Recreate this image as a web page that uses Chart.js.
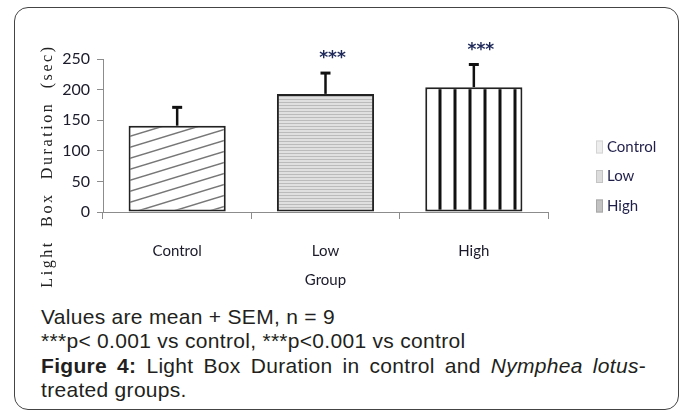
<!DOCTYPE html>
<html lang="en">
<head>
  <meta charset="UTF-8">
  <title>Light Box Duration</title>
  <script src="https://cdn.jsdelivr.net/npm/chart.js@4.4.0/dist/chart.umd.min.js"></script>
  <style>
    body { margin: 0; background: #fff; }
    #frame {
      position: absolute; left: 14px; top: 7px; width: 665px; height: 403px;
      box-sizing: border-box; border: 1.5px solid #444; border-radius: 14px;
    }
    #myChart { position: absolute; left: 0; top: 0; }
    #caption {
      position: absolute; left: 41px; top: 305px; width: 605px;
      font-family: "Liberation Sans", Arial, sans-serif; font-size: 21px;
      letter-spacing: 0.3px; line-height: 24.3px; color: #231f20; text-align: justify;
    }
  </style>
</head>
<body>
  <div id="frame"></div>
  <canvas id="myChart" width="683" height="300"></canvas>
  <div id="caption">
    Values are mean + SEM, n = 9<br>
    ***p&lt; 0.001 vs control, ***p&lt;0.001 vs control<br>
    <b>Figure 4:</b> Light Box Duration in control and <i>Nymphea lotus</i>-treated groups.
  </div>
  <script>
    // data
    const groups = ['Control', 'Low', 'High'];
    const means = [141, 193, 204];
    const sem = [30, 34, 37];
    const stars = ['', '***', '***'];
    const yTicks = [0, 50, 100, 150, 200, 250];

    const narrow = 'Lato, "DejaVu Sans Condensed", sans-serif';

    // fill patterns for the three bars
    function makePattern(w, h, draw) {
      const c = document.createElement('canvas');
      c.width = w; c.height = h;
      const g = c.getContext('2d');
      draw(g, w, h);
      return c.getContext('2d').createPattern(c, 'repeat');
    }
    const diag = makePattern(36, 11, (g, w, h) => {
      g.fillStyle = '#fff'; g.fillRect(0, 0, w, h);
      g.strokeStyle = '#777'; g.lineWidth = 1.5;
      for (let k = -1; k <= 1; k++) {
        g.beginPath();
        g.moveTo(-1, h + k * h + h / w);
        g.lineTo(w + 1, k * h - h / w);
        g.stroke();
      }
    });
    const hstripe = makePattern(4, 3, (g, w, h) => {
      g.fillStyle = '#e0e0e0'; g.fillRect(0, 0, w, h);
      g.fillStyle = '#bbb'; g.fillRect(0, 0, w, 1);
    });
    const vstripe = makePattern(15, 4, (g, w, h) => {
      g.fillStyle = '#fff'; g.fillRect(0, 0, w, h);
      g.fillStyle = '#111'; g.fillRect(3.5, 0, 3, h);
    });

    // error bars + significance stars
    const errorBars = {
      id: 'errorBars',
      afterDatasetsDraw(chart) {
        const ctx = chart.ctx;
        const y = chart.scales.y;
        const meta = chart.getDatasetMeta(0);
        ctx.save();
        meta.data.forEach((bar, i) => {
          const top = y.getPixelForValue(means[i] + sem[i]);
          const base = y.getPixelForValue(means[i]);
          ctx.strokeStyle = '#111';
          ctx.lineWidth = 2.5;
          ctx.beginPath();
          ctx.moveTo(bar.x, base);
          ctx.lineTo(bar.x, top);
          ctx.stroke();
          ctx.lineWidth = 3;
          ctx.beginPath();
          ctx.moveTo(bar.x - 5, top);
          ctx.lineTo(bar.x + 5, top);
          ctx.stroke();
          if (stars[i]) {
            ctx.fillStyle = '#1f2a5a';
            ctx.font = 'bold 17px "DejaVu Sans", sans-serif';
            ctx.textAlign = 'center';
            ctx.textBaseline = 'middle';
            ctx.fillText(stars[i], bar.x + 7, top - 14);
          }
        });
        ctx.restore();
      }
    };

    // rotated serif y title and the small legend on the right
    const extras = {
      id: 'extras',
      afterDraw(chart) {
        const ctx = chart.ctx;
        ctx.save();
        ctx.translate(48, 166);
        ctx.rotate(-Math.PI / 2);
        ctx.font = '16px "Liberation Serif", "DejaVu Serif", serif';
        ctx.letterSpacing = '2.6px';
        ctx.fillStyle = '#222';
        ctx.textAlign = 'center';
        ctx.textBaseline = 'middle';
        ctx.fillText('Light  Box  Duration  (sec)', 0, 0);
        ctx.restore();

        const swatch = ['#ededed', '#dcdcdc', '#c2c2c2'];
        const edge = ['#d4d4d4', '#c4c4c4', '#a8a8a8'];
        ctx.save();
        ctx.font = '15px ' + narrow;
        ctx.textBaseline = 'middle';
        groups.forEach((g, i) => {
          const cy = 147 + i * 29.5;
          ctx.fillStyle = swatch[i];
          ctx.fillRect(596, cy - 6.5, 7, 13);
          ctx.strokeStyle = edge[i];
          ctx.lineWidth = 1;
          ctx.strokeRect(596.5, cy - 6, 6, 12);
          ctx.fillStyle = '#1f1f4a';
          ctx.fillText(g, 607, cy);
        });
        ctx.restore();
      }
    };

    new Chart(document.getElementById('myChart'), {
      type: 'bar',
      data: {
        labels: groups,
        datasets: [{
          data: means,
          backgroundColor: [diag, hstripe, vstripe],
          borderColor: '#222',
          borderWidth: 2,
          borderSkipped: false,
          categoryPercentage: 1,
          barPercentage: 0.655
        }]
      },
      options: {
        responsive: false,
        animation: false,
        layout: { padding: { left: 0, right: 135, top: 59, bottom: 0 } },
        plugins: { legend: { display: false }, tooltip: { enabled: false } },
        scales: {
          x: {
            afterFit: s => { s.height = 88; },
            border: { color: '#8c8c8c', width: 1 },
            grid: { offset: true, drawOnChartArea: false, tickLength: 7, color: '#8c8c8c' },
            ticks: { padding: 23, color: '#1a1a2a', font: { family: narrow, size: 15 } },
            title: {
              display: true, text: 'Group', color: '#1a1a2a',
              font: { family: narrow, size: 15 }, padding: { top: 0, bottom: 11 }
            }
          },
          y: {
            min: 0, max: 250,
            afterFit: s => { s.width = 103; },
            afterBuildTicks: s => { s.ticks = yTicks.map(v => ({ value: v })); },
            border: { color: '#8c8c8c', width: 1 },
            grid: { drawOnChartArea: false, tickLength: 6, color: '#8c8c8c' },
            ticks: { padding: 7, color: '#1a1a2a', font: { family: narrow, size: 16 } }
          }
        }
      },
      plugins: [errorBars, extras]
    });
  </script>
</body>
</html>
